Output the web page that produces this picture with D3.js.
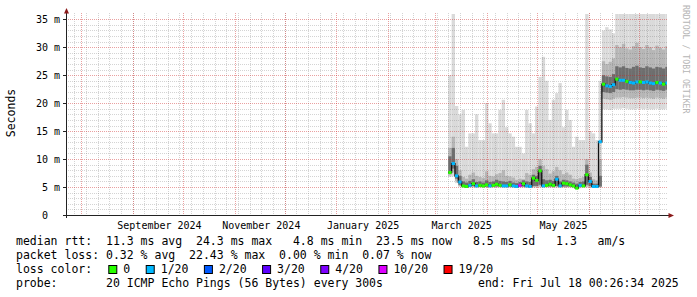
<!DOCTYPE html>
<html>
<head>
<meta charset="utf-8">
<script src="https://cdn.jsdelivr.net/npm/d3@7"></script>
<style>
  body { margin: 0; background: #fff; }
  text { font-family: "DejaVu Sans Mono", monospace; fill: #000; white-space: pre; }
</style>
</head>
<body>
<script>
// smokeping year view, one column = 2 days, first column starts 2025-03-09
var medianMs = [7.6, 9.2, 7.0, 5.9, 5.2, 5.1, 5.3, 5.6, 5.2, 5.3, 5.2, 5.4, 5.2, 5.3, 5.5, 5.3, 5.2, 5.2, 5.4, 5.2,
  5.1, 5.3, 5.6, 5.2, 5.1, 6.6, 6.2, 7.9, 5.2, 5.3, 5.5, 5.3, 6.4, 5.2, 5.7, 5.6, 5.4, 5.2, 4.8, 5.3,
  5.2, 7.2, 6.0, 5.1, 5.1, 13.1, 23.4, 23.1, 23.0, 23.3, 24.3, 24.1, 24.1, 23.9, 23.7, 23.6, 23.8, 23.8, 23.7, 23.8,
  23.6, 23.5, 23.7, 23.6, 23.4, 23.6];
var lossCount = [0, 1, 1, 1, 0, 0, 1, 0, 1, 0, 0, 0, 1, 0, 0, 0, 1, 1, 0, 1,
  1, 10, 0, 1, 1, 0, 0, 0, 1, 0, 0, 0, 1, 1, 0, 0, 0, 0, 0, 1,
  0, 0, 1, 1, 1, 1, 0, 1, 1, 1, 0, 1, 1, 0, 1, 1, 1, 0, 1, 1,
  1, 1, 0, 1, 0, 1];
var smokeMin = [6.8, 6.9, 5.7, 5.0, 4.9, 4.9, 4.9, 4.9, 4.9, 4.9, 4.9, 4.9, 4.9, 4.9, 4.9, 4.9, 4.9, 4.9, 4.9, 4.9,
  4.9, 4.9, 4.9, 4.9, 4.9, 4.9, 4.9, 4.9, 4.9, 4.9, 4.9, 4.9, 4.9, 4.9, 4.9, 4.9, 4.9, 4.8, 4.7, 4.8,
  4.9, 4.9, 4.9, 4.9, 4.9, 4.9, 18.9, 18.9, 18.8, 19.0, 19.0, 19.0, 19.1, 19.0, 18.9, 18.9, 19.0, 19.0, 18.9, 19.0,
  18.9, 18.9, 19.0, 18.9, 18.9, 19.0];
var smokeP10 = [7.1, 7.6, 6.1, 5.2, 5.0, 5.0, 5.0, 5.0, 5.0, 5.0, 5.0, 5.0, 5.0, 5.0, 5.0, 5.0, 5.0, 5.0, 5.0, 5.0,
  5.0, 5.0, 5.0, 5.0, 5.0, 5.0, 5.0, 5.1, 5.0, 5.0, 5.0, 5.0, 5.0, 5.0, 5.0, 5.0, 5.0, 5.0, 4.8, 5.0,
  5.0, 5.1, 5.0, 5.0, 5.0, 5.0, 20.8, 20.7, 20.6, 20.8, 21.0, 21.0, 21.1, 21.0, 20.9, 20.9, 21.0, 21.0, 20.9, 21.0,
  20.9, 20.8, 21.0, 20.9, 20.8, 21.0];
var smokeP25 = [7.4, 8.3, 6.5, 5.4, 5.1, 5.0, 5.1, 5.2, 5.1, 5.1, 5.1, 5.1, 5.1, 5.1, 5.1, 5.1, 5.1, 5.1, 5.1, 5.1,
  5.0, 5.1, 5.1, 5.1, 5.0, 5.2, 5.2, 5.4, 5.1, 5.1, 5.1, 5.1, 5.2, 5.1, 5.1, 5.1, 5.1, 5.0, 4.9, 5.1,
  5.1, 5.4, 5.2, 5.0, 5.0, 5.1, 22.0, 21.9, 21.8, 22.0, 22.5, 22.4, 22.5, 22.4, 22.3, 22.3, 22.4, 22.4, 22.3, 22.4,
  22.3, 22.2, 22.4, 22.3, 22.2, 22.4];
var smokeP75 = [10.5, 12.0, 8.8, 7.0, 6.0, 5.8, 6.1, 6.4, 5.9, 6.0, 5.8, 6.2, 5.9, 6.0, 6.3, 6.1, 6.0, 5.9, 6.1, 5.8,
  5.7, 5.9, 6.2, 6.0, 5.9, 7.2, 7.0, 8.8, 6.4, 6.2, 6.3, 6.1, 7.0, 6.0, 6.3, 6.2, 6.0, 5.8, 5.6, 5.9,
  6.0, 9.0, 6.8, 5.6, 5.6, 7.0, 25.0, 24.8, 24.7, 25.2, 26.6, 26.4, 26.6, 26.3, 26.2, 26.5, 26.7, 26.4, 26.3, 26.6,
  26.4, 26.2, 26.5, 26.4, 26.2, 26.5];
var smokeP90 = [12.0, 14.0, 10.0, 8.0, 6.8, 6.5, 7.2, 7.6, 7.0, 6.8, 6.6, 7.8, 7.0, 6.9, 7.3, 7.5, 8.0, 7.0, 6.9, 6.7,
  6.3, 6.5, 6.4, 7.5, 7.2, 8.2, 8.6, 10.0, 8.8, 8.2, 7.4, 7.8, 8.6, 8.0, 7.3, 7.6, 7.2, 6.5, 6.4, 6.6,
  6.8, 10.0, 7.6, 6.4, 6.2, 10.0, 27.5, 27.0, 27.4, 28.0, 30.4, 30.0, 30.6, 29.8, 29.6, 30.2, 30.8, 30.0, 29.7, 30.4,
  30.0, 29.5, 30.3, 29.9, 29.6, 30.2];
var smokeMax = [25.0, 38.0, 19.5, 18.0, 18.8, 12.2, 14.6, 14.6, 18.0, 13.4, 13.4, 20.0, 16.4, 14.6, 14.6, 18.8, 20.6, 15.7, 14.6, 14.0,
  12.2, 12.2, 11.0, 18.8, 16.4, 14.6, 19.4, 24.7, 28.3, 24.0, 17.0, 20.6, 21.8, 23.6, 15.7, 18.8, 17.0, 12.2, 14.0, 13.4,
  13.4, 38.0, 15.0, 14.6, 13.4, 24.0, 33.0, 33.6, 33.2, 32.5, 40.0, 40.0, 40.0, 40.0, 40.0, 40.0, 40.0, 40.0, 40.0, 40.0,
  40.0, 40.0, 40.0, 40.0, 40.0, 40.0];

var lossSteps = [0, 1, 2, 3, 4, 10, 19];
var lossLabels = ['0', '1/20', '2/20', '3/20', '4/20', '10/20', '19/20'];
var lossColors = ['#26ff00', '#00b8ff', '#0059ff', '#5e00ff', '#7e00ff', '#dd00ff', '#ff0000'];

var legendLines = [
  'median rtt:  11.3 ms avg  24.3 ms max   4.8 ms min  23.5 ms now   8.5 ms sd   1.3   am/s',
  'packet loss: 0.32 % avg  22.43 % max  0.00 % min  0.07 % now',
  'loss color:',
  'probe:       20 ICMP Echo Pings (56 Bytes) every 300s'
];
var endLabel = 'end: Fri Jul 18 00:26:34 2025';

var DAY = 86400000;
var endTime = Date.UTC(2025, 6, 18, 0, 26, 34);
var startTime = endTime - 360 * DAY;
var dataStart = Date.UTC(2025, 2, 9);

var svg = d3.select('body').append('svg').attr('width', 697).attr('height', 297);

var x = d3.scaleUtc().domain([startTime, endTime]).range([66, 667]);
var y = d3.scaleLinear().domain([0, 35.95]).range([215, 14]);

svg.append('clipPath').attr('id', 'plot')
  .append('rect').attr('x', 66).attr('y', 14).attr('width', 601).attr('height', 201);

var cols = medianMs.map(function (m, k) {
  return {
    t0: dataStart + k * 2 * DAY, t1: dataStart + (k + 1) * 2 * DAY, med: m, loss: lossCount[k],
    min: smokeMin[k], p10: smokeP10[k], p25: smokeP25[k], p75: smokeP75[k], p90: smokeP90[k], max: smokeMax[k]
  };
});

// smoke
var smoke = svg.append('g').attr('clip-path', 'url(#plot)');
var bands = [['min', 'max', '#dadada'], ['p10', 'p90', '#b6b6b6'], ['p25', 'p75', '#6e6e6e']];
bands.forEach(function (b) {
  smoke.selectAll(null).data(cols).enter().append('rect')
    .attr('x', function (d) { return x(d.t0); })
    .attr('width', function (d) { return x(d.t1) - x(d.t0); })
    .attr('y', function (d) { return y(d[b[1]]); })
    .attr('height', function (d) { return y(d[b[0]]) - y(d[b[1]]); })
    .attr('fill', b[2]);
});

// grid
var grid = svg.append('g');
var minorStyle = 'rgba(120,120,120,0.32)', majorStyle = 'rgba(205,30,30,0.42)';
y.ticks(36).filter(function (v) { return v > 0 && v % 5 != 0; }).forEach(function (v) {
  grid.append('line').attr('x1', 66).attr('x2', 667).attr('y1', Math.round(y(v)) + 0.5).attr('y2', Math.round(y(v)) + 0.5)
    .attr('stroke', minorStyle).attr('stroke-dasharray', '1,1');
});
d3.utcSunday.range(startTime, endTime).forEach(function (t) {
  grid.append('line').attr('y1', 13).attr('y2', 215).attr('x1', Math.round(x(t)) + 0.5).attr('x2', Math.round(x(t)) + 0.5)
    .attr('stroke', minorStyle).attr('stroke-dasharray', '1,1');
});
y.ticks(7).filter(function (v) { return v > 0; }).forEach(function (v) {
  grid.append('line').attr('x1', 66).attr('x2', 667).attr('y1', Math.round(y(v)) + 0.5).attr('y2', Math.round(y(v)) + 0.5)
    .attr('stroke', majorStyle).attr('stroke-dasharray', '1,1');
});
d3.utcMonth.range(startTime, endTime).forEach(function (t) {
  grid.append('line').attr('y1', 13).attr('y2', 215).attr('x1', Math.round(x(t)) + 0.5).attr('x2', Math.round(x(t)) + 0.5)
    .attr('stroke', majorStyle).attr('stroke-dasharray', '1,1');
});

// median line, thin dark first, then loss-coloured LINE3 pieces
var plotG = svg.append('g').attr('clip-path', 'url(#plot)');
var medPts = cols.map(function (d) { return [d.t0, d.med]; });
medPts.push([cols[cols.length - 1].t1, cols[cols.length - 1].med]);
plotG.append('path')
  .attr('d', d3.line().curve(d3.curveStepAfter).x(function (d) { return x(d[0]); }).y(function (d) { return y(d[1]); })(medPts))
  .attr('fill', 'none').attr('stroke', '#111').attr('stroke-width', 1.3);

function lossColor(n) {
  var c = lossColors[0];
  lossSteps.forEach(function (s, i) { if (n >= s) c = lossColors[i]; });
  return c;
}
plotG.selectAll(null).data(cols).enter().append('line')
  .attr('x1', function (d) { return x(d.t0); })
  .attr('x2', function (d) { return x(d.t1); })
  .attr('y1', function (d) { return y(d.med); })
  .attr('y2', function (d) { return y(d.med); })
  .attr('stroke', function (d) { return lossColor(d.loss); })
  .attr('stroke-width', 3);

// axes
svg.append('line').attr('x1', 63).attr('x2', 669).attr('y1', 215.5).attr('y2', 215.5).attr('stroke', '#222');
svg.append('line').attr('x1', 66.5).attr('x2', 66.5).attr('y1', 12).attr('y2', 218).attr('stroke', '#222');
svg.append('path').attr('d', 'M66.5,8L64,13.5L69,13.5Z').attr('fill', '#8b1a1a');
svg.append('path').attr('d', 'M674,215.5L668.5,213L668.5,218Z').attr('fill', '#8b1a1a');
y.ticks(7).filter(function (v) { return v > 0; }).forEach(function (v) {
  svg.append('line').attr('x1', 63).attr('x2', 66).attr('y1', Math.round(y(v)) + 0.5).attr('y2', Math.round(y(v)) + 0.5)
    .attr('stroke', '#222');
});

// y labels
var yLab = svg.append('g').style('font-size', '10px');
y.ticks(7).forEach(function (v) {
  yLab.append('text').attr('x', 48).attr('y', y(v) + 3.5).attr('text-anchor', 'end').text(v);
  if (v > 0) yLab.append('text').attr('x', 54).attr('y', y(v) + 3.5).text('m');
});

// x labels, centred in the month as rrdtool does
var fmt = d3.utcFormat('%B %Y');
d3.utcMonth.every(2).range(startTime, endTime).forEach(function (t) {
  var cx = x(t.getTime() + 16 * DAY);
  if (cx > 640) return;
  svg.append('text').attr('x', cx).attr('y', 229).attr('text-anchor', 'middle')
    .style('font-size', '10px').text(fmt(t));
});

svg.append('text').attr('transform', 'translate(15,113) rotate(-90)').attr('text-anchor', 'middle')
  .style('font-size', '11.5px').text('Seconds');
svg.append('text').attr('transform', 'translate(683,5) rotate(90)')
  .style('font-size', '8.2px').style('fill', '#b5b5b5').text('RRDTOOL / TOBI OETIKER');

// legend
var cw = 6.92;
var leg = svg.append('g').style('font-size', '11.5px');
legendLines.forEach(function (s, i) {
  leg.append('text').attr('x', 16).attr('y', 245 + i * 14).text(s);
});
leg.append('text').attr('x', 478).attr('y', 287).text(endLabel);
var bx = 108.3;
lossLabels.forEach(function (l, i) {
  leg.append('rect').attr('x', bx + 0.5).attr('y', 265.5).attr('width', 8).attr('height', 8)
    .attr('fill', lossColors[i]).attr('stroke', '#000');
  leg.append('text').attr('x', bx + 15).attr('y', 273).text(l);
  bx += 30.5 + l.length * cw;
});
</script>
</body>
</html>
